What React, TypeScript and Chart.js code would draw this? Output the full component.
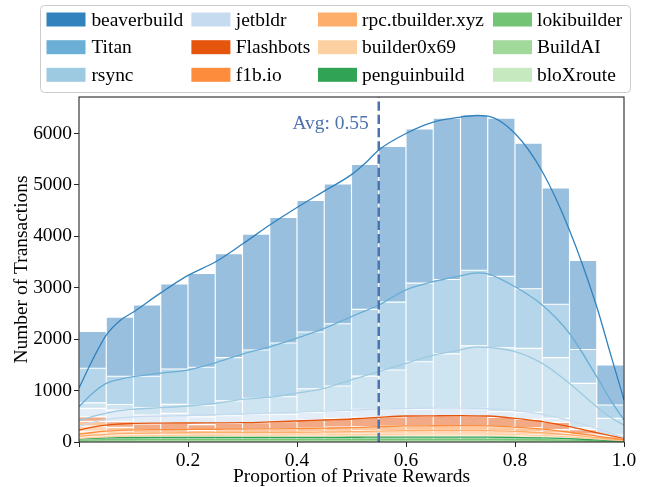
import React, { useEffect, useRef } from 'react';
import { Chart, registerables } from 'chart.js';

Chart.register(...registerables);

// ---------- data ----------
// left edges of the 20 histogram bins (width 0.05)
const binStarts = [0, 0.05, 0.1, 0.15, 0.2, 0.25, 0.3, 0.35, 0.4, 0.45, 0.5, 0.55, 0.6, 0.65, 0.7, 0.75, 0.8, 0.85, 0.9, 0.95];
const binWidth = 0.05;

const builders = [
  'beaverbuild', 'Titan', 'rsync', 'jetbldr', 'Flashbots', 'f1b.io',
  'rpc.tbuilder.xyz', 'builder0x69', 'penguinbuild', 'lokibuilder', 'BuildAI', 'bloXroute',
];

const builderColors = [
  '#3182bd', '#6baed6', '#9ecae1', '#c6dbef', '#e6550d', '#fd8d3c',
  '#fdae6b', '#fdd0a2', '#31a354', '#74c476', '#a1d99b', '#c7e9c0',
];

// histogram counts per bin
const beaverbuild = [716, 1152, 1387, 1655, 1827, 2025, 2250, 2444, 2560, 2720, 2820, 3030, 3000, 3140, 3020, 3080, 2830, 2260, 1730, 780];
const titan = [674, 548, 611, 687, 738, 840, 940, 1046, 1105, 1210, 1300, 1320, 1530, 1445, 1470, 1390, 1160, 1040, 660, 260];
const rsync = [105, 110, 142, 175, 225, 290, 310, 340, 458, 487, 644, 760, 920, 1060, 1215, 1240, 1243, 1180, 860, 324];
const jetbldr = [165, 225, 175, 195, 155, 147, 164, 145, 149, 143, 156, 150, 134, 145, 145, 110, 137, 77, 40, 36];
const flashbots = [90, 110, 110, 120, 110, 125, 130, 140, 155, 170, 178, 182, 190, 192, 192, 180, 165, 142, 85, 35];
const f1bio = [90, 70, 60, 60, 55, 60, 65, 68, 75, 82, 85, 88, 90, 92, 92, 86, 78, 68, 42, 16];
const rpcTbuilder = [100, 60, 45, 48, 42, 45, 48, 50, 55, 60, 63, 65, 68, 68, 68, 64, 58, 51, 30, 12];
const builder0x69 = [120, 65, 45, 45, 38, 43, 43, 47, 53, 58, 59, 60, 63, 63, 63, 60, 54, 47, 28, 12];
const penguinbuild = [40, 40, 40, 40, 40, 40, 40, 40, 40, 40, 42, 42, 42, 42, 42, 40, 38, 34, 25, 11];
const lokibuilder = [20, 20, 20, 20, 20, 20, 20, 20, 20, 20, 21, 21, 21, 21, 21, 20, 19, 17, 12, 6];
const buildAI = [15, 15, 15, 15, 15, 15, 15, 15, 15, 15, 16, 16, 16, 16, 16, 15, 14, 12, 9, 4];
const bloXroute = [15, 15, 15, 15, 15, 15, 15, 15, 15, 15, 16, 16, 16, 16, 16, 15, 14, 12, 9, 4];

const binCounts = [
  beaverbuild, titan, rsync, jetbldr, flashbots, f1bio,
  rpcTbuilder, builder0x69, penguinbuild, lokibuilder, buildAI, bloXroute,
];

// stacked KDE curves (cumulative heights), read at these x positions
const kdeX = [0, 0.025, 0.05, 0.075, 0.1, 0.15, 0.2, 0.25, 0.3, 0.35, 0.4, 0.45, 0.5, 0.525, 0.55, 0.6, 0.65, 0.7, 0.73, 0.75, 0.8, 0.85, 0.9, 0.95, 0.975, 1.0];
const kdeBeaverbuild = [1050, 1600, 2080, 2360, 2530, 2900, 3240, 3500, 3850, 4220, 4560, 4880, 5200, 5420, 5680, 6000, 6220, 6320, 6350, 6340, 6000, 5260, 4120, 2630, 1720, 820];
const kdeTitan = [687, 950, 1140, 1220, 1270, 1340, 1400, 1540, 1710, 1850, 2020, 2210, 2440, 2550, 2665, 2960, 3120, 3230, 3290, 3270, 3020, 2665, 2110, 1270, 820, 430];
const kdeRsync = [415, 500, 560, 610, 636, 667, 700, 750, 830, 870, 950, 1045, 1210, 1290, 1370, 1530, 1690, 1790, 1850, 1840, 1760, 1530, 1140, 687, 480, 330];
const kdeJetbldr = [300, 380, 440, 470, 490, 505, 515, 530, 545, 560, 580, 600, 620, 630, 640, 650, 660, 660, 655, 650, 610, 540, 420, 260, 170, 90];
const kdeFlashbots = [233, 290, 330, 350, 363, 368, 370, 373, 376, 390, 408, 428, 447, 465, 480, 506, 510, 512, 510, 506, 460, 395, 300, 180, 125, 70];
const kdeF1bio = [150, 185, 210, 225, 235, 240, 245, 248, 250, 255, 262, 270, 280, 290, 298, 312, 316, 318, 317, 315, 290, 250, 190, 115, 80, 45];
const kdeRpc = [110, 132, 150, 162, 170, 176, 180, 182, 183, 186, 190, 195, 200, 205, 210, 222, 225, 226, 225, 223, 205, 180, 140, 85, 60, 35];
const kdeBuilder0x69 = [70, 86, 100, 110, 118, 124, 128, 131, 133, 135, 138, 140, 143, 146, 149, 155, 157, 158, 157, 156, 145, 128, 100, 60, 42, 25];
const kdePenguin = [60, 72, 80, 85, 88, 89, 90, 90, 90, 90, 90, 91, 92, 93, 94, 95, 95, 95, 95, 94, 88, 80, 64, 40, 28, 18];
const kdeLoki = [35, 42, 46, 48, 49, 50, 50, 50, 50, 50, 50, 51, 51, 51, 52, 52, 52, 52, 52, 51, 48, 44, 35, 22, 15, 10];
const kdeBuildAI = [22, 26, 28, 29, 30, 30, 31, 31, 31, 31, 31, 31, 31, 31, 32, 32, 32, 32, 32, 31, 29, 27, 22, 14, 9, 6];
const kdeBloXroute = [10, 12, 13, 14, 14, 15, 15, 15, 15, 15, 15, 15, 15, 15, 16, 16, 16, 16, 16, 15, 14, 13, 10, 6, 4, 3];

const kdeCurves = [
  kdeBeaverbuild, kdeTitan, kdeRsync, kdeJetbldr, kdeFlashbots, kdeF1bio,
  kdeRpc, kdeBuilder0x69, kdePenguin, kdeLoki, kdeBuildAI, kdeBloXroute,
];

const avgValue = 0.55;
const yMax = 6710;
const yTickValues = [0, 1000, 2000, 3000, 4000, 5000, 6000];
const xTickValues = [0, 0.2, 0.4, 0.6, 0.8, 1.0];

// ---------- style ----------
const FONT = '"Liberation Serif", "Times New Roman", serif';
const FS = 19.44;
const AVG_COLOR = '#4c72b0';

function withAlpha(hex: string, a: number) {
  const r = parseInt(hex.slice(1, 3), 16);
  const g = parseInt(hex.slice(3, 5), 16);
  const b = parseInt(hex.slice(5, 7), 16);
  return `rgba(${r},${g},${b},${a})`;
}

const overlayPlugin = {
  id: 'overlay',
  afterDraw(chart: any) {
    const ctx = chart.ctx as CanvasRenderingContext2D;
    const { left, right, top, bottom } = chart.chartArea;
    ctx.save();
    // frame
    ctx.strokeStyle = '#262626';
    ctx.lineWidth = 1.1;
    ctx.strokeRect(left, top, right - left, bottom - top);

    // average label
    const px = chart.scales.x.getPixelForValue(avgValue);
    ctx.font = `${FS}px ${FONT}`;
    ctx.fillStyle = AVG_COLOR;
    ctx.textAlign = 'right';
    ctx.textBaseline = 'alphabetic';
    ctx.fillText(`Avg: ${avgValue.toFixed(2)}`, px - 10, 129);

    // legend
    ctx.beginPath();
    (ctx as any).roundRect(40.5, 5.5, 590, 87, 4);
    ctx.fillStyle = 'rgba(255,255,255,0.8)';
    ctx.fill();
    ctx.strokeStyle = '#cccccc';
    ctx.lineWidth = 1;
    ctx.stroke();

    const swatchX = [46.5, 191.4, 318, 493];
    const textX = [91.4, 235.8, 362, 537];
    const rowY = [19.5, 47.2, 74.8];
    ctx.textAlign = 'left';
    ctx.textBaseline = 'middle';
    builders.forEach((name, i) => {
      const col = Math.floor(i / 3);
      const row = i % 3;
      ctx.fillStyle = builderColors[i];
      ctx.fillRect(swatchX[col], rowY[row] - 7, 39, 14);
      ctx.fillStyle = '#000';
      ctx.fillText(name, textX[col], rowY[row] + 1);
    });
    ctx.restore();
  },
};

export default function App() {
  const canvasRef = useRef<HTMLCanvasElement | null>(null);

  useEffect(() => {
    if (!canvasRef.current) return;
    Chart.defaults.font.family = FONT;
    Chart.defaults.font.size = FS;
    Chart.defaults.color = '#000';

    const barDatasets: any[] = [];
    for (let i = builders.length - 1; i >= 0; i--) {
      barDatasets.push({
        type: 'bar',
        label: builders[i],
        data: binStarts.map((s, j) => ({ x: s + binWidth / 2, y: binCounts[i][j] })),
        backgroundColor: withAlpha(builderColors[i], 0.5),
        borderColor: '#ffffff',
        borderWidth: 0.9,
        borderSkipped: false,
        barPercentage: 1,
        categoryPercentage: 1,
        grouped: false,
        xAxisID: 'x',
        yAxisID: 'y',
        order: 2,
      });
    }
    const lineDatasets: any[] = builders.map((name, i) => ({
      type: 'line',
      label: name + ' kde',
      data: kdeX.map((x, j) => ({ x, y: kdeCurves[i][j] })),
      borderColor: builderColors[i],
      borderWidth: 1.3,
      pointRadius: 0,
      fill: false,
      cubicInterpolationMode: 'monotone',
      xAxisID: 'x',
      yAxisID: 'yK',
      order: 1,
    }));
    const avgDataset: any = {
      type: 'line',
      label: 'avg',
      data: [{ x: avgValue, y: 0 }, { x: avgValue, y: yMax }],
      borderColor: AVG_COLOR,
      borderWidth: 2.5,
      borderDash: [9.25, 4],
      pointRadius: 0,
      xAxisID: 'x',
      yAxisID: 'yK',
      order: 0,
    };

    const chart = new Chart(canvasRef.current, {
      type: 'bar',
      data: {
        datasets: [...barDatasets, ...lineDatasets, avgDataset],
      },
      options: {
        responsive: false,
        animation: false,
        devicePixelRatio: 1,
        layout: { padding: { top: 97, right: 22, left: 0, bottom: 0 } },
        plugins: { legend: { display: false }, tooltip: { enabled: false } },
        scales: {
          x: {
            type: 'linear',
            position: 'bottom',
            min: 0,
            max: 1,
            offset: false,
            stacked: true,
            afterFit: (s: any) => { s.height = 45; },
            afterBuildTicks: (s: any) => { s.ticks = xTickValues.map((v) => ({ value: v })); },
            border: { display: false },
            grid: { display: true, offset: false, drawOnChartArea: false, drawTicks: true, tickLength: 5, color: '#262626' },
            ticks: {
              padding: 2,
              color: '#000',
              autoSkip: false,
              maxRotation: 0,
              callback: (v: any) => (Math.abs(v) < 1e-9 ? '' : Number(v).toFixed(1)),
            },
            title: { display: true, text: 'Proportion of Private Rewards', padding: { top: 0, bottom: -2 }, color: '#000' },
          },
          y: {
            type: 'linear',
            stacked: true,
            min: 0,
            max: yMax,
            afterFit: (s: any) => { s.width = 79; },
            afterBuildTicks: (s: any) => { s.ticks = yTickValues.map((v) => ({ value: v })); },
            border: { display: false },
            grid: { display: true, drawOnChartArea: false, drawTicks: true, tickLength: 5, color: '#262626' },
            ticks: { padding: 2, color: '#000', autoSkip: false, callback: (v: any) => String(v) },
            title: { display: true, text: 'Number of Transactions', padding: { top: 10, bottom: 0 }, color: '#000' },
          },
          yK: {
            type: 'linear',
            display: false,
            min: 0,
            max: yMax,
            stacked: false,
          },
        },
      } as any,
      plugins: [overlayPlugin],
    } as any);

    return () => chart.destroy();
  }, []);

  return (
    <div style={{ position: 'absolute', left: 0, top: 0, width: 646, height: 487, background: '#fff' }}>
      <canvas ref={canvasRef} width={646} height={487} style={{ display: 'block' }} />
    </div>
  );
}
